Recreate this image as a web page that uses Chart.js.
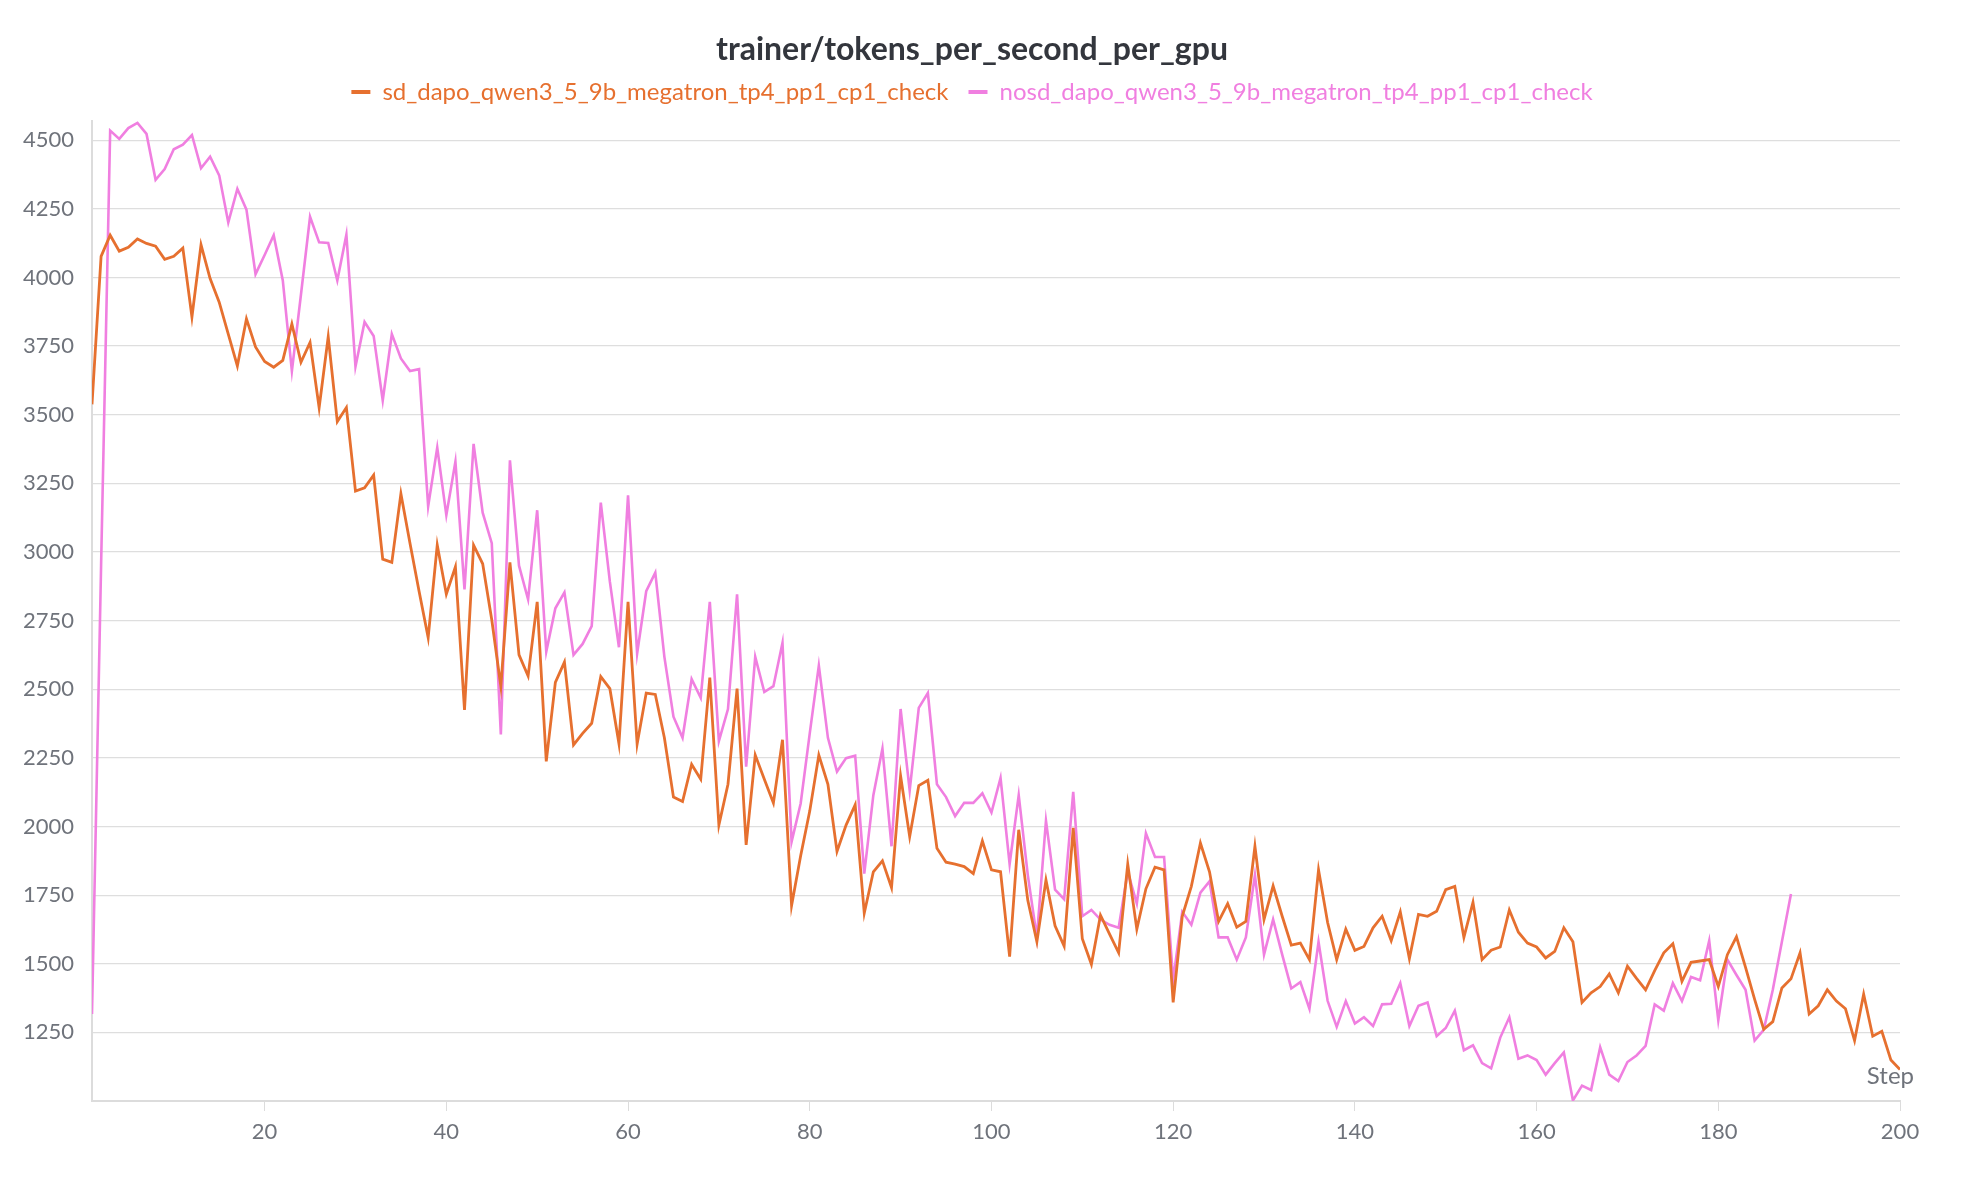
<!DOCTYPE html>
<html>
<head>
<meta charset="utf-8">
<script src="https://cdn.jsdelivr.net/npm/chart.js@4.4.1/dist/chart.umd.min.js"></script>
<style>
    html, body { margin: 0; padding: 0; background: #ffffff; }
    #wrap { width: 1964px; height: 1184px; }
</style>
</head>
<body>
<div id="wrap"><canvas id="tpsChart" width="1964" height="1184"></canvas></div>
<script>
// Data
const seriesNames = [
    "sd_dapo_qwen3_5_9b_megatron_tp4_pp1_cp1_check",
    "nosd_dapo_qwen3_5_9b_megatron_tp4_pp1_cp1_check"
];

const steps = Array.from({ length: 200 }, (_, i) => i + 1);

const sdValues = [
    3538, 4077, 4154, 4096, 4110, 4140, 4124, 4114, 4066, 4077,
    4107, 3856, 4119, 3996, 3910, 3794, 3678, 3849, 3747, 3694,
    3673, 3698, 3831, 3691, 3763, 3526, 3784, 3475, 3526, 3222,
    3234, 3280, 2974, 2962, 3212, 3032, 2857, 2688, 3025, 2846,
    2946, 2425, 3025, 2957, 2753, 2510, 2962, 2625, 2548, 2818,
    2237, 2525, 2599, 2297, 2339, 2376, 2546, 2502, 2302, 2818,
    2300, 2486, 2481, 2323, 2107, 2091, 2226, 2172, 2542, 2005,
    2154, 2502, 1933, 2260, 2172, 2086, 2316, 1712, 1893, 2056,
    2260, 2154, 1909, 2005, 2079, 1684, 1835, 1875, 1777, 2184,
    1963, 2149, 2168, 1921, 1870, 1863, 1854, 1828, 1947, 1842,
    1835, 1526, 1988, 1731, 1580, 1805, 1638, 1564, 1995, 1591,
    1498, 1677, 1608, 1540, 1863, 1626, 1773, 1852, 1842, 1359,
    1673, 1782, 1940, 1835, 1654, 1719, 1633, 1654, 1928, 1661,
    1784, 1673, 1568, 1575, 1515, 1842, 1650, 1515, 1626, 1549,
    1563, 1631, 1673, 1584, 1689, 1519, 1680, 1673, 1691, 1770,
    1782, 1596, 1724, 1515, 1549, 1561, 1696, 1615, 1575, 1561,
    1521, 1545, 1631, 1580, 1359, 1394, 1417, 1463, 1394, 1491,
    1447, 1405, 1475, 1540, 1573, 1436, 1505, 1510, 1515, 1417,
    1533, 1598, 1487, 1370, 1261, 1289, 1412, 1445, 1540, 1317,
    1347, 1405, 1364, 1336, 1220, 1389, 1236, 1254, 1149, 1115
];

const nosdValues = [
    1317, 2950, 4535, 4505, 4544, 4563, 4523, 4356, 4395, 4467,
    4484, 4519, 4398, 4440, 4372, 4200, 4323, 4247, 4012, 4082,
    4154, 3989, 3659, 3938, 4221, 4128, 4126, 3989, 4156, 3675,
    3838, 3787, 3552, 3794, 3705, 3659, 3666, 3166, 3380, 3134,
    3329, 2864, 3394, 3143, 3032, 2335, 3334, 2950, 2827, 3152,
    2637, 2795, 2853, 2625, 2665, 2730, 3180, 2892, 2653, 3206,
    2630, 2857, 2925, 2618, 2400, 2323, 2537, 2469, 2818, 2311,
    2428, 2846, 2218, 2618, 2490, 2511, 2669, 1944, 2084, 2339,
    2586, 2323, 2200, 2249, 2258, 1828, 2114, 2284, 1928, 2428,
    2131, 2432, 2486, 2154, 2107, 2038, 2086, 2086, 2121, 2051,
    2177, 1863, 2114, 1823, 1596, 2021, 1770, 1735, 2126, 1673,
    1696, 1661, 1642, 1631, 1835, 1719, 1975, 1889, 1889, 1440,
    1689, 1642, 1759, 1800, 1596, 1596, 1515, 1596, 1823, 1533,
    1661, 1533, 1410, 1433, 1336, 1580, 1365, 1270, 1364, 1282,
    1305, 1273, 1352, 1354, 1429, 1273, 1347, 1359, 1236, 1266,
    1329, 1185, 1203, 1138, 1119, 1231, 1305, 1154, 1166, 1149,
    1096, 1138, 1177, 1002, 1056, 1040, 1196, 1096, 1073, 1142,
    1166, 1201, 1352, 1329, 1429, 1364, 1452, 1440, 1584, 1294,
    1515, 1459, 1405, 1220, 1259, 1405, 1580, 1754
];

const xTickValues = [20, 40, 60, 80, 100, 120, 140, 160, 180, 200];
const yTickValues = [1250, 1500, 1750, 2000, 2250, 2500, 2750, 3000, 3250, 3500, 3750, 4000, 4250, 4500];

const colors = ["#e6702f", "#f07fe0"];
const fontFamily = "Lato, 'Noto Sans', sans-serif";
const tickColor = "#6f737b";

// Extra gap under the legend
const legendGap = {
    id: "legendGap",
    beforeInit(chart) {
        const fit = chart.legend.fit;
        chart.legend.fit = function () {
            fit.bind(chart.legend)();
            this.height += 7;
        };
    }
};

// Title and legend sit a bit right of the canvas centre
const headerShift = {
    id: "headerShift",
    afterLayout(chart) {
        [chart.titleBlock, chart.legend].forEach(box => {
            if (box) {
                box.left += 22;
                box.right += 22;
            }
        });
    }
};

// "Step" label in the bottom right corner
const stepLabel = {
    id: "stepLabel",
    afterDraw(chart) {
        const { ctx, chartArea } = chart;
        ctx.save();
        ctx.font = "24px " + fontFamily;
        ctx.fillStyle = tickColor;
        ctx.textAlign = "right";
        ctx.textBaseline = "middle";
        ctx.fillText("Step", chartArea.right + 14, chartArea.bottom - 25);
        ctx.restore();
    }
};

const ctx = document.getElementById("tpsChart");

new Chart(ctx, {
    type: "line",
    data: {
        labels: steps,
        datasets: [
            {
                label: seriesNames[0],
                data: sdValues,
                borderColor: colors[0],
                backgroundColor: colors[0],
                borderWidth: 2.8,
                pointRadius: 0,
                tension: 0
            },
            {
                label: seriesNames[1],
                data: nosdValues,
                borderColor: colors[1],
                backgroundColor: colors[1],
                borderWidth: 2.6,
                pointRadius: 0,
                tension: 0
            }
        ]
    },
    options: {
        responsive: false,
        animation: false,
        devicePixelRatio: 1,
        layout: {
            padding: { left: 0, right: 64, top: 0, bottom: 0 }
        },
        plugins: {
            title: {
                display: true,
                text: "trainer/tokens_per_second_per_gpu",
                color: "#33363d",
                font: { family: fontFamily, size: 32, weight: "bold", lineHeight: 0.625 },
                padding: { top: 40, bottom: 0 }
            },
            legend: {
                display: true,
                position: "top",
                labels: {
                    boxWidth: 19,
                    boxHeight: 4,
                    padding: 20,
                    font: { family: fontFamily, size: 24 },
                    generateLabels(chart) {
                        return chart.data.datasets.map((ds, i) => ({
                            text: ds.label,
                            fillStyle: colors[i],
                            strokeStyle: colors[i],
                            fontColor: colors[i],
                            lineWidth: 0,
                            datasetIndex: i
                        }));
                    }
                }
            },
            tooltip: { enabled: false }
        },
        scales: {
            x: {
                type: "linear",
                min: 1,
                max: 200,
                afterBuildTicks(scale) {
                    scale.ticks = xTickValues.map(v => ({ value: v }));
                },
                afterFit(scale) {
                    scale.height = 83;
                },
                grid: {
                    drawOnChartArea: false,
                    drawTicks: true,
                    tickLength: 10,
                    color: "#dcdcdc",
                    lineWidth: 1
                },
                border: { display: true, color: "#dcdcdc", width: 2 },
                ticks: {
                    color: tickColor,
                    padding: 8,
                    maxRotation: 0,
                    autoSkip: false,
                    font: { family: fontFamily, size: 22 },
                    callback: value => String(value)
                }
            },
            y: {
                min: 1000,
                max: 4570,
                afterBuildTicks(scale) {
                    scale.ticks = yTickValues.map(v => ({ value: v }));
                },
                afterFit(scale) {
                    scale.width = 92;
                },
                grid: {
                    drawTicks: false,
                    color: "#dedede",
                    lineWidth: 1.2
                },
                border: { display: true, color: "#dcdcdc", width: 2 },
                ticks: {
                    color: tickColor,
                    padding: 18,
                    font: { family: fontFamily, size: 22 },
                    callback: value => String(value)
                }
            }
        }
    },
    plugins: [legendGap, headerShift, stepLabel]
});
</script>
</body>
</html>
